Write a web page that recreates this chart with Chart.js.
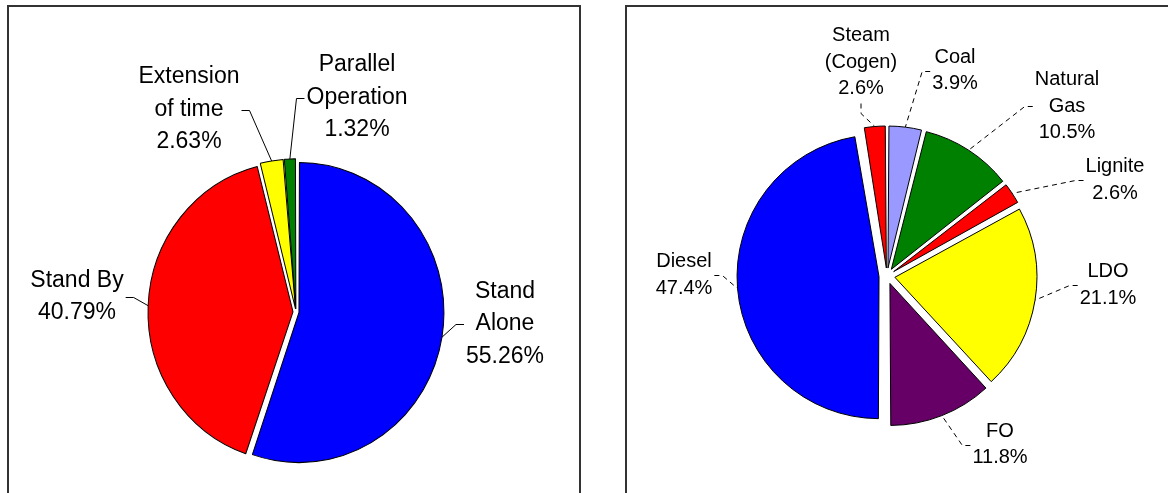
<!DOCTYPE html>
<html>
<head>
<meta charset="utf-8">
<script src="https://cdn.jsdelivr.net/npm/chart.js@4.4.0/dist/chart.umd.min.js"></script>
<style>
  html, body { margin: 0; padding: 0; background: #fff; overflow: hidden; }
  body { width: 1168px; height: 493px; position: relative; }
  .frame { position: absolute; box-sizing: border-box; border: 2px solid #333; }
  #frameLeft { left: 7px; top: 5px; width: 574px; height: 600px; }
  #frameRight { left: 625px; top: 5px; width: 600px; height: 600px; }
  canvas { position: absolute; top: 0; }
  #leftPie { left: 0; }
  #rightPie { left: 600px; }
</style>
</head>
<body>
<div class="frame" id="frameLeft"></div>
<div class="frame" id="frameRight"></div>
<canvas id="leftPie" width="592" height="493"></canvas>
<canvas id="rightPie" width="568" height="493"></canvas>
<script>
// left pie: mode of operation (%)
const modeLabels = [['Stand', 'Alone'], ['Stand By'], ['Extension', 'of time'], ['Parallel', 'Operation']];
const modeValues = [55.26, 40.79, 2.63, 1.32];
const modeColors = ['#0000FF', '#FF0000', '#FFFF00', '#008000'];

// right pie: fuel used (%)
const fuelLabels = [['Coal'], ['Natural', 'Gas'], ['Lignite'], ['LDO'], ['FO'], ['Diesel'], ['Steam', '(Cogen)']];
const fuelValues = [3.9, 10.5, 2.6, 21.1, 11.8, 47.4, 2.6];
const fuelColors = ['#9999FF', '#008000', '#FF0000', '#FFFF00', '#660066', '#0000FF', '#FF0000'];

// where each label block sits, px from the pie centre (layout only)
const modeLabelPos = [[209, 12], [-219, -15.5], [-107, -202.5], [61, -214.5]];
const fuelLabelPos = [[68, -205.5], [180, -170], [228, -96], [221, 9], [113, 168.5], [-203, -1], [-26, -214]];

// chart.js makes exploded slices a bit bigger, take that back so every slice has the same radius
function sliceGrow(arc) {
  const shift = (arc.options.offset || 0) / 4;
  return shift * (1 - Math.sin(Math.min(Math.PI, arc.circumference)));
}

const callouts = {
  id: 'callouts',
  afterDatasetsUpdate(chart) {
    chart.getDatasetMeta(0).data.forEach(arc => {
      arc.outerRadius -= sliceGrow(arc);
    });
  },
  // the original pie is a touch taller than wide
  beforeDatasetsDraw(chart, args, opts) {
    const ctx = chart.ctx;
    const cy = chart.getDatasetMeta(0).data[0].y;
    ctx.save();
    ctx.translate(0, cy);
    ctx.scale(1, opts.stretchY);
    ctx.translate(0, -cy);
  },
  afterDatasetsDraw(chart) {
    chart.ctx.restore();
  },
  afterDraw(chart, args, opts) {
    const ctx = chart.ctx;
    const meta = chart.getDatasetMeta(0);
    const values = chart.data.datasets[0].data;
    ctx.save();
    ctx.font = opts.font;
    ctx.fillStyle = '#000';
    ctx.strokeStyle = '#000';
    ctx.lineWidth = 1;
    ctx.textAlign = 'center';
    ctx.textBaseline = 'middle';
    meta.data.forEach((arc, i) => {
      const lines = chart.data.labels[i].concat(values[i].toFixed(opts.decimals) + '%');
      const lh = opts.lineHeight;
      const cx = arc.x + opts.positions[i][0];
      const cy = arc.y + opts.positions[i][1];
      const top = cy - (lines.length - 1) * lh / 2;
      lines.forEach((t, k) => ctx.fillText(t, cx, top + k * lh));
      const w = Math.max(...lines.map(t => ctx.measureText(t).width));

      // leader line goes to the middle of the slice's rim
      const mid = (arc.startAngle + arc.endAngle) / 2;
      const shift = (arc.options.offset || 0) / 4;
      const r = arc.outerRadius + sliceGrow(arc) + shift;
      const ax = arc.x + Math.cos(mid) * r;
      const ay = arc.y + Math.sin(mid) * r * opts.stretchY;

      ctx.setLineDash(opts.dash);
      ctx.beginPath();
      if (ax > cx - w / 2 - 2 && ax < cx + w / 2 + 2) {
        const by = top + (lines.length - 1) * lh + opts.size / 2 + 5;
        ctx.moveTo(cx, by);
        ctx.lineTo(cx, by + 10);
      } else {
        const side = ax < cx ? -1 : 1;
        const sx = cx + side * (w / 2 + 2);
        const sy = Math.round(cy) + 0.5;
        ctx.moveTo(sx, sy);
        ctx.lineTo(sx + side * 8, sy);
      }
      ctx.lineTo(ax, ay);
      ctx.stroke();
    });
    ctx.restore();
  }
};

function makePie(id, labels, values, colors, shift, radius, padding, labelOpts) {
  return new Chart(document.getElementById(id), {
    type: 'pie',
    data: {
      labels: labels,
      datasets: [{
        data: values,
        backgroundColor: colors,
        borderColor: '#000',
        borderWidth: 1,
        offset: shift * 4,
        radius: radius
      }]
    },
    options: {
      responsive: false,
      animation: false,
      events: [],
      layout: { padding: padding },
      plugins: {
        legend: { display: false },
        tooltip: { enabled: false },
        callouts: labelOpts
      }
    },
    plugins: [callouts]
  });
}

makePie('leftPie', modeLabels, modeValues, modeColors, 3, 145,
  { left: 0, right: 0, top: 131, bottom: 0 },
  { font: '23px "Liberation Sans", Arial, sans-serif', size: 23, lineHeight: 32.5,
    decimals: 2, dash: [], positions: modeLabelPos, stretchY: 1.035 });

makePie('rightPie', fuelLabels, fuelValues, fuelColors, 8, 142,
  { left: 6, right: 0, top: 59, bottom: 0 },
  { font: '20px "Liberation Sans", Arial, sans-serif', size: 20, lineHeight: 26.5,
    decimals: 1, dash: [5, 4], positions: fuelLabelPos, stretchY: 1 });
</script>
</body>
</html>
